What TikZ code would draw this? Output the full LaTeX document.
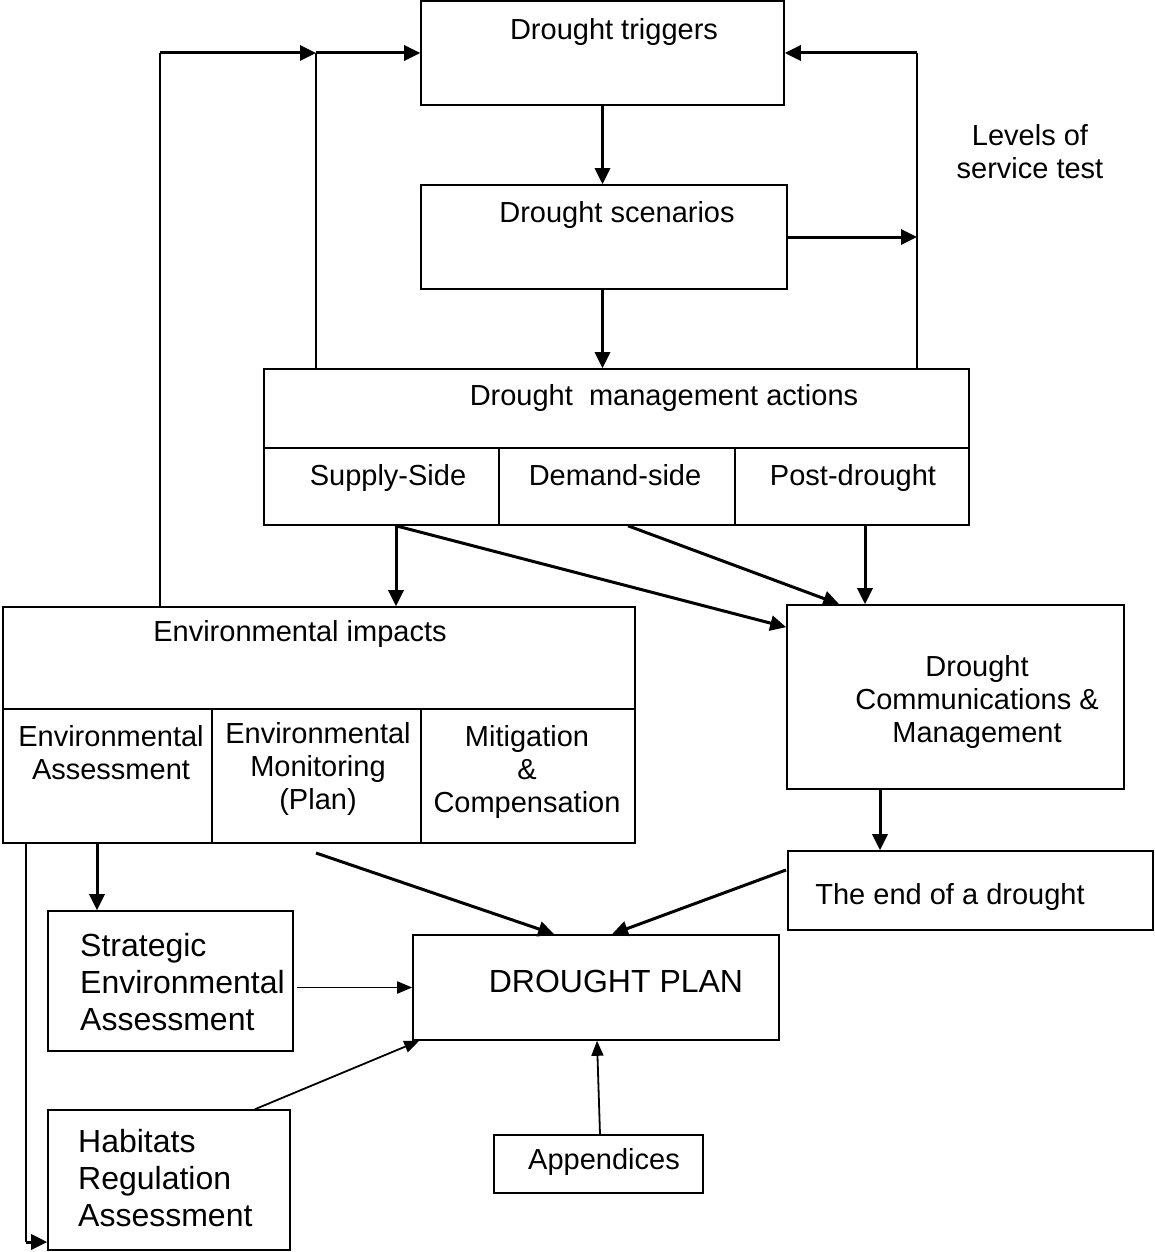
\documentclass[tikz,border=0pt]{standalone}
\usepackage{fontspec}
\setmainfont{Liberation Sans}
\usetikzlibrary{arrows.meta}
\begin{document}
\begin{tikzpicture}[x=1pt,y=-1pt,
  box/.style={draw, line width=1.6pt, inner sep=0pt},
  txt/.style={inner sep=0pt, align=center, font=\fontsize{29}{33}\selectfont},
  onetxt/.style={txt, text height=21pt, text depth=6pt},
  bigtxt/.style={inner sep=0pt, align=left, font=\fontsize{32}{37}\selectfont},
  thickarrow/.style={line width=3pt, -{Triangle[length=16pt,width=15pt]}},
  thinarrow/.style={line width=1.8pt, -{Triangle[length=15pt,width=12pt]}},
  plainline/.style={line width=1.6pt},
  divline/.style={line width=1.6pt}]
\useasboundingbox (0,0) rectangle (1155,1252);

% boxes
\node[box, minimum width=363pt, minimum height=104pt] (trig) at (602.5,53) {};
\node[box, minimum width=366pt, minimum height=104pt] (scen) at (604,237) {};
\node[box, minimum width=705pt, minimum height=156pt] (dma) at (616.5,447) {};
\node[box, minimum width=632pt, minimum height=236pt] (env) at (319,725) {};
\node[box, minimum width=337pt, minimum height=184pt] (comm) at (955.5,697) {};
\node[box, minimum width=365pt, minimum height=79pt] (endd) at (970.5,890.5) {};
\node[box, minimum width=366pt, minimum height=105pt] (plan) at (596,987.5) {};
\node[box, minimum width=245pt, minimum height=140pt] (sea) at (170.5,981) {};
\node[box, minimum width=242pt, minimum height=140pt] (hra) at (169,1180) {};
\node[box, minimum width=209pt, minimum height=58pt] (app) at (598.5,1164) {};

% dividers
\draw[divline] (dma.west |- 0,448) -- (dma.east |- 0,448);
\draw[divline] (499,448) -- (dma.south -| 499,0);
\draw[divline] (735,448) -- (dma.south -| 735,0);
\draw[divline] (env.west |- 0,709) -- (env.east |- 0,709);
\draw[divline] (212,709) -- (env.south -| 212,0);
\draw[divline] (421,709) -- (env.south -| 421,0);

% texts
\node[onetxt] (ttrig) at (614,32) {Drought triggers};
\node[onetxt] (tscen) at (617,215) {Drought scenarios};
\node[onetxt] (tdma) at (664,398) {Drought\ \ management actions};
\node[onetxt] (tsup) at (388,478) {Supply-Side};
\node[onetxt] (tdem) at (615,478) {Demand-side};
\node[onetxt] (tpost) at (853,478) {Post-drought};
\node[onetxt] (tenv) at (300,634) {Environmental impacts};
\node[txt] (tea) at (111,753) {Environmental\\Assessment};
\node[txt] (tem) at (318,769) {Environmental\\Monitoring\\(Plan)};
\node[txt] (tmit) at (527,772) {Mitigation\\\&\\Compensation};
\node[txt] (tcomm) at (977,702) {Drought\\Communications \&\\Management};
\node[txt] (tlev) at (1030,152) {Levels of\\service test};
\node[onetxt] (tend) at (950,897) {The end of a drought};
\node[inner sep=0pt, text height=23pt, text depth=7pt, font=\fontsize{32}{37}\selectfont] (tplan) at (616,984) {DROUGHT PLAN};
\node[bigtxt, anchor=west] (tsea) at (80,982) {Strategic\\Environmental\\Assessment};
\node[bigtxt, anchor=west] (thra) at (78,1178) {Habitats\\Regulation\\Assessment};
\node[onetxt] (tapp) at (604,1162) {Appendices};

% junction coordinates
\coordinate (jL) at (316,53);
\coordinate (jLL) at (160,53);
\coordinate (jR) at (917,53);
\coordinate (xs) at (396,0);
\coordinate (xd) at (628,0);
\coordinate (xp) at (865,0);
\coordinate (xe) at (880,0);
\coordinate (xq) at (612,0);
\coordinate (xea) at (97,0);
\coordinate (xh) at (26,0);
\coordinate (yh) at (0,1242);
\coordinate (envout) at (316,853);
\coordinate (endout) at (786,870);
\coordinate (hraout) at (255,0);
\coordinate (xapp) at (600,0);
\coordinate (xappin) at (597,0);

% connectors
\draw[thickarrow] (trig.south) -- (scen.north -| trig.south);
\draw[thickarrow] (scen.south -| trig.south) -- (dma.north -| trig.south);

\draw[plainline] (dma.north -| jL) -- (jL);
\draw[thickarrow] (jL) -- (trig.west);
\draw[plainline] (env.north -| jLL) -- (jLL);
\draw[thickarrow] (jLL) -- (jL);

\draw[plainline] (dma.north -| jR) -- (jR);
\draw[thickarrow] (jR) -- (trig.east);
\draw[thickarrow] (scen.east) -- (scen.east -| jR);

\draw[thickarrow] (dma.south -| xs) -- (env.north -| xs);
\draw[thickarrow] (dma.south -| xs) -- ([yshift=-23pt]comm.north west);
\draw[thickarrow] (dma.south -| xd) -- ([xshift=53pt]comm.north west);
\draw[thickarrow] (dma.south -| xp) -- (comm.north -| xp);

\draw[thickarrow] (comm.south -| xe) -- (endd.north -| xe);
\draw[thickarrow] (endout) -- (plan.north -| xq);
\draw[thickarrow] (envout) -- ([xshift=142pt]plan.north west);

\draw[thickarrow] (env.south -| xea) -- (sea.north -| xea);
\draw[plainline] (env.south -| xh) -- (xh |- yh);
\draw[thickarrow] (xh |- yh) -- (hra.west |- yh);

\draw[thinarrow, shorten <=3pt] (sea.east |- plan.west) -- (plan.west);
\draw[thinarrow] (hra.north -| hraout) -- ([xshift=7pt]plan.south west);
\draw[thinarrow] (app.north -| xapp) -- (plan.south -| xappin);
\end{tikzpicture}
\end{document}
